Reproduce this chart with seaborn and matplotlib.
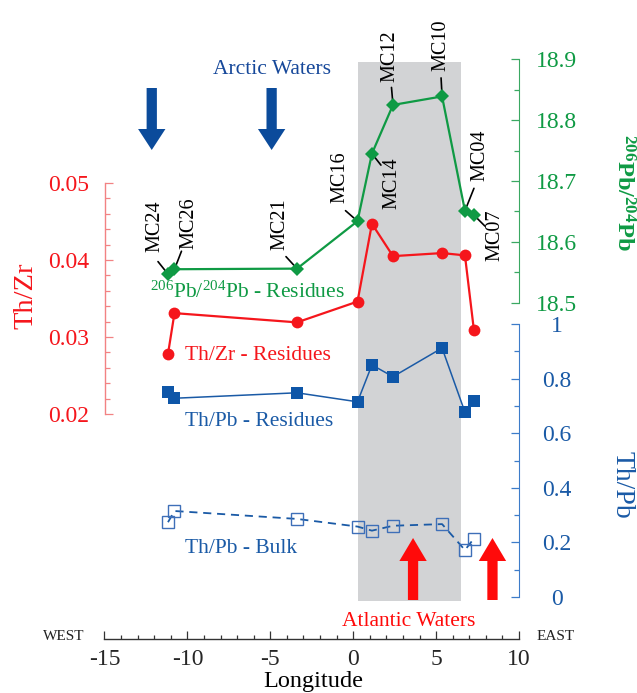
import numpy as np
import pandas as pd
import matplotlib
matplotlib.use('Agg')
import matplotlib.pyplot as plt
import seaborn as sns
from matplotlib.ticker import MultipleLocator, FuncFormatter
from matplotlib.patches import FancyArrow

# ---------------- data ----------------
samples = ['MC24', 'MC26', 'MC21', 'MC16', 'MC14', 'MC12', 'MC10', 'MC04', 'MC07']
longitude = [-11.17, -10.78, -3.39, 0.26, 1.13, 2.40, 5.36, 6.74, 7.28]
pb206_204 = [18.547, 18.555, 18.556, 18.634, 18.745, 18.825, 18.839, 18.651, 18.644]
th_zr = [0.0278, 0.0331, 0.0319, 0.0346, 0.0447, 0.0405, 0.0409, 0.0406, 0.0309]
th_pb_res = [0.752, 0.728, 0.748, 0.715, 0.850, 0.807, 0.912, 0.677, 0.719]
th_pb_bulk = [0.274, 0.315, 0.286, 0.258, 0.243, 0.261, 0.267, 0.172, 0.214]

band_lon = (0.27, 6.50)
arctic_arrow_lon = [-12.15, -4.92]
atlantic_arrow_lon = [3.61, 8.40]

x_ticks = [-15, -10, -5, 0, 5, 10]
zr_ticks = [0.02, 0.03, 0.04, 0.05]
pb_ticks = [18.5, 18.6, 18.7, 18.8, 18.9]
thpb_ticks = [0, 0.2, 0.4, 0.6, 0.8, 1.0]

df = pd.DataFrame({'sample': samples, 'lon': longitude, 'pb': pb206_204,
                   'thzr': th_zr, 'res': th_pb_res, 'bulk': th_pb_bulk})

# ---------------- style ----------------
sns.set_style('white')
plt.rcParams['font.family'] = ['Liberation Serif', 'DejaVu Serif']
plt.rcParams['mathtext.fontset'] = 'custom'
plt.rcParams['mathtext.rm'] = 'Liberation Serif'
plt.rcParams['mathtext.it'] = 'Liberation Serif:italic'
plt.rcParams['mathtext.bf'] = 'Liberation Serif:bold'
plt.rcParams['lines.dashed_pattern'] = [4.5, 3.2]

RED = '#f5161c'
RED_SPINE = '#f28283'
GREEN = '#0f9a44'
BLUE = '#1a5aa6'
BLUE_SPINE = '#3d7cc9'
NAVY = '#0b4b9b'
BAND = '#d2d3d5'

W, H = 637, 693
fig = plt.figure(figsize=(W / 100, H / 100), dpi=100)
fig.patch.set_facecolor('white')

XL, XR = 104.5, 519.0


def rect(top, bottom):
    return [XL / W, 1 - bottom / H, (XR - XL) / W, (bottom - top) / H]


def fxy(px, py):
    return px / W, 1 - py / H


# base axes: x axis, band, arrows (y in pixel units from top)
ax0 = fig.add_axes(rect(62, 639.3))
axZr = fig.add_axes(rect(183, 414))
axG = fig.add_axes(rect(59.3, 302.7))
axB = fig.add_axes(rect(324, 597))

for a in (ax0, axZr, axG, axB):
    a.set_xlim(-15, 10)
    a.patch.set_visible(False)
    for s in a.spines.values():
        s.set_visible(False)
    a.grid(False)

ax0.set_ylim(639.3, 62)
ax0.spines['bottom'].set_visible(True)
ax0.spines['bottom'].set_color('#333333')
ax0.spines['bottom'].set_linewidth(1.0)
ax0.set_yticks([])
ax0.xaxis.set_major_locator(plt.FixedLocator(x_ticks))
ax0.xaxis.set_minor_locator(MultipleLocator(1))
ax0.xaxis.set_major_formatter(FuncFormatter(lambda v, p: f"{v:g}"))
ax0.tick_params(axis='x', which='both', bottom=True, top=False)
ax0.tick_params(axis='x', which='major', direction='in', length=5.6, width=0.9,
                color='#333333', labelsize=17, pad=7)
ax0.tick_params(axis='x', which='minor', direction='in', length=3.1, width=0.9,
                color='#333333')

ax0.axvspan(band_lon[0], band_lon[1], ymin=(639.3 - 601) / (639.3 - 62), ymax=1,
            color=BAND, lw=0, zorder=0)

for xa in arctic_arrow_lon:
    ax0.add_patch(FancyArrow(xa, 88, 0, 62, width=0.62, head_width=1.65,
                             head_length=21, length_includes_head=True,
                             color=NAVY, lw=0))
for xa in atlantic_arrow_lon:
    ax0.add_patch(FancyArrow(xa, 600, 0, -62, width=0.62, head_width=1.65,
                             head_length=23, length_includes_head=True,
                             color='#ff0a0a', lw=0))

# Th/Zr axis (left)
axZr.set_ylim(0.02, 0.05)
axZr.set_xticks([])
axZr.spines['left'].set_visible(True)
axZr.spines['left'].set_color(RED_SPINE)
axZr.spines['left'].set_linewidth(1.0)
axZr.yaxis.set_major_locator(plt.FixedLocator(zr_ticks))
axZr.yaxis.set_minor_locator(MultipleLocator(0.002))
axZr.yaxis.set_major_formatter(FuncFormatter(lambda v, p: f"{v:.2f}"))
axZr.tick_params(axis='y', which='both', left=True, right=False)
axZr.tick_params(axis='y', which='major', direction='in', length=5.8, width=0.9,
                 color=RED_SPINE, labelcolor=RED, labelsize=17, pad=11)
axZr.tick_params(axis='y', which='minor', direction='in', length=3.4, width=0.9,
                 color=RED_SPINE)

# 206Pb/204Pb axis (right, top)
axG.set_ylim(18.5, 18.9)
axG.set_xticks([])
axG.yaxis.tick_right()
axG.spines['right'].set_visible(True)
axG.spines['right'].set_color('#3aa862')
axG.yaxis.set_major_locator(plt.FixedLocator(pb_ticks))
axG.yaxis.set_minor_locator(MultipleLocator(0.05))
axG.yaxis.set_major_formatter(FuncFormatter(lambda v, p: f"{v:.1f}"))
axG.tick_params(axis='y', which='both', right=True, left=False)
axG.tick_params(axis='y', which='major', direction='in', length=5.8, width=0.9,
                color='#3aa862', labelcolor=GREEN, labelsize=17, pad=27)
axG.tick_params(axis='y', which='minor', direction='in', length=3.6, width=0.9,
                color='#3aa862')

# Th/Pb axis (right, bottom)
axB.set_ylim(0, 1)
axB.set_xticks([])
axB.yaxis.tick_right()
axB.spines['right'].set_visible(True)
axB.spines['right'].set_color(BLUE_SPINE)
axB.yaxis.set_major_locator(plt.FixedLocator(thpb_ticks))
axB.yaxis.set_minor_locator(MultipleLocator(0.1))
axB.yaxis.set_major_formatter(FuncFormatter(
    lambda v, p: '0' if abs(v) < 1e-9 else ('1' if abs(v - 1) < 1e-9 else f"{v:.1f}")))
axB.tick_params(axis='y', which='both', right=True, left=False)
axB.tick_params(axis='y', which='major', direction='in', length=5.8, width=0.9,
                color=BLUE_SPINE, labelcolor=BLUE, labelsize=17, pad=27)
axB.tick_params(axis='y', which='minor', direction='in', length=3.6, width=0.9,
                color=BLUE_SPINE)

for a in (axG, axB):
    for t in a.yaxis.get_major_ticks():
        t.label2.set_ha('center')

# ---------------- data series ----------------
sns.lineplot(data=df, x='lon', y='thzr', ax=axZr, sort=False, estimator=None,
             color=RED, lw=1.6, marker='o', markersize=8.5, markeredgewidth=0,
             clip_on=False, zorder=4)
sns.lineplot(data=df, x='lon', y='pb', ax=axG, sort=False, estimator=None,
             color=GREEN, lw=1.6, marker='D', markersize=7.5, markeredgewidth=0,
             clip_on=False, zorder=5)
sns.lineplot(data=df, x='lon', y='res', ax=axB, sort=False, estimator=None,
             color=BLUE, lw=1.1, marker='s', markersize=8.5, markeredgewidth=0,
             markerfacecolor='#0e56a8', clip_on=False, zorder=4)
sns.lineplot(data=df, x='lon', y='bulk', ax=axB, sort=False, estimator=None,
             color=BLUE, lw=1.3, linestyle='--', marker='s', markersize=8.5,
             markerfacecolor='none', markeredgecolor='#3e6fb8', markeredgewidth=1.0,
             clip_on=False, zorder=4)
for a in (axZr, axG, axB):
    a.set_xlabel('')
    a.set_ylabel('')

# sample labels: (text dx, text dy, leader dx, leader dy) in pixels
label_pos = {
    'MC24': (-13, 48, -10, 12.5),
    'MC26': (14, 46, 7, 18),
    'MC21': (-17, 44, -11, 12),
    'MC16': (-18, 43.5, -12, 10.5),
    'MC14': (20.5, -30, 9, -11.5),
    'MC12': (-3.3, 48.5, -1.5, 17.5),
    'MC10': (-0.8, 51.5, -1, 18.5),
    'MC04': (14.8, 55.5, 9, 22.5),
    'MC07': (21.5, -20, 11, -11),
}
for s, lon, v in zip(samples, longitude, pb206_204):
    tdx, tdy, ldx, ldy = label_pos[s]
    axG.annotate('', xy=(lon, v), xytext=(ldx, ldy), textcoords='offset pixels',
                 arrowprops=dict(arrowstyle='-', color='black', lw=1.2,
                                 shrinkA=0, shrinkB=3.5),
                 annotation_clip=False)
    axG.annotate(s, xy=(lon, v), xytext=(tdx, tdy), textcoords='offset pixels',
                 rotation=90, ha='center', va='center', fontsize=14.6,
                 color='black', annotation_clip=False)

# ---------------- texts ----------------
fig.text(*fxy(213, 73.5), 'Arctic Waters', color='#16489a', fontsize=15.5,
         ha='left', va='baseline')
fig.text(*fxy(342.5, 625.5), 'Atlantic Waters', color='#ff0a0a', fontsize=15.5,
         ha='left', va='baseline')
fig.text(*fxy(150, 298), r'$^{206}$Pb/$^{204}$Pb - Residues', color=GREEN,
         fontsize=15.5, ha='left', va='baseline')
fig.text(*fxy(185, 360), 'Th/Zr - Residues', color=RED, fontsize=15.5,
         ha='left', va='baseline')
fig.text(*fxy(185, 426.5), 'Th/Pb - Residues', color=BLUE, fontsize=15.5,
         ha='left', va='baseline')
fig.text(*fxy(185, 553), 'Th/Pb - Bulk', color=BLUE, fontsize=15.5,
         ha='left', va='baseline')
fig.text(*fxy(43, 639.5), 'WEST', color='#222222', fontsize=11, ha='left',
         va='baseline')
fig.text(*fxy(537, 639.5), 'EAST', color='#222222', fontsize=11, ha='left',
         va='baseline')
fig.text(*fxy(313, 682), 'Longitude', color='black', fontsize=17.5,
         ha='center', va='center')
fig.text(*fxy(26, 296), 'Th/Zr', color=RED, fontsize=20.5, rotation=90,
         ha='center', va='center')
fig.text(*fxy(623, 192), r'$^{\mathbf{206}}$Pb/$^{\mathbf{204}}$Pb', color=GREEN,
         fontsize=17.5, fontweight='bold', rotation=270, ha='center', va='center')
fig.text(*fxy(622, 485), 'Th/Pb', color=BLUE, fontsize=20, rotation=270,
         ha='center', va='center')

fig.savefig('out.png', dpi=100)
